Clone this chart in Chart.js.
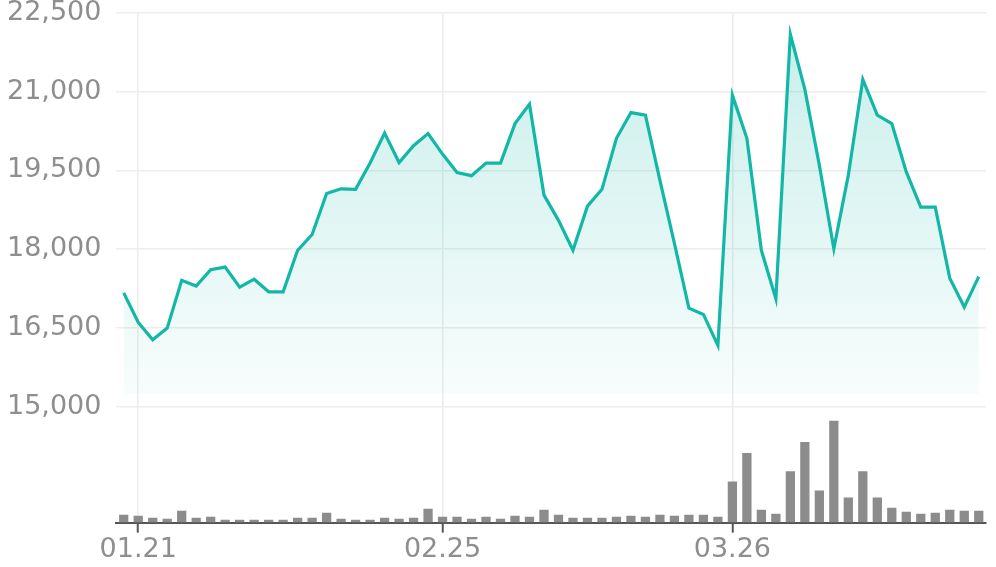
<!DOCTYPE html>
<html>
<head>
<meta charset="utf-8">
<script src="https://cdn.jsdelivr.net/npm/chart.js@4/dist/chart.umd.min.js"></script>
<style>
    html, body { margin:0; padding:0; background:#ffffff; }
    #wrap { width:996px; height:567px; }
</style>
</head>
<body>
<div id="wrap"><canvas id="chartPrice"></canvas></div>
<script>

/* ---------- data ---------- */

const dates = [
    "01.20","01.21","01.22","01.23","01.24","01.31","02.03","02.04","02.05","02.06",
    "02.07","02.10","02.11","02.12","02.13","02.14","02.17","02.18","02.19","02.20",
    "02.21","02.24","02.25","02.26","02.27","02.28","03.04","03.05","03.06","03.07",
    "03.10","03.11","03.12","03.13","03.14","03.17","03.18","03.19","03.20","03.21",
    "03.24","03.25","03.26","03.27","03.28","03.31","04.01","04.02","04.03","04.04",
    "04.07","04.08","04.09","04.10","04.11","04.14","04.15","04.16","04.17","04.18"
];

const prices = [
    17170,16610,16280,16500,17410,17300,17610,17660,17280,17430,
    17190,17190,17980,18280,19060,19150,19140,19640,20210,19650,
    19970,20200,19810,19460,19400,19640,19640,20390,20760,19030,
    18550,17980,18820,19140,20110,20600,20550,19310,18110,16880,
    16760,16170,20930,20110,17980,17060,22090,21040,19600,18010,
    19410,21230,20550,20390,19470,18800,18800,17450,16900,17480
];

const volumes = [
    77,67,47,37,117,47,57,27,27,27,
    27,27,47,47,97,37,27,27,47,37,
    47,137,57,57,37,57,37,67,57,127,
    77,47,47,47,57,67,57,77,67,77,
    77,57,407,687,127,87,507,797,317,1007,
    247,507,247,147,107,87,97,127,117,117
];

const shownDates = ["01.21","02.25","03.26"];

const priceTicks = [15000,16500,18000,19500,21000,22500];

/* ---------- chart ---------- */

const teal = "rgb(19,183,167)";

function fillGradient(context) {

    const chart = context.chart;
    const area = chart.chartArea;

    if (!area) return "rgba(19,183,167,0.12)";

    const yScale = chart.scales.y;

    const g = chart.ctx.createLinearGradient(0, area.top, 0, yScale.getPixelForValue(15250));

    g.addColorStop(0, "rgba(19,183,167,0.24)");
    g.addColorStop(1, "rgba(19,183,167,0.03)");

    return g;

}

const fontX = {
    family:"'DejaVu Sans', sans-serif",
    size:27,
    lineHeight:1.2
};

const fontY = {
    family:"'DejaVu Sans', sans-serif",
    size:27,
    lineHeight:0.94
};

const priceChart = new Chart(document.getElementById("chartPrice").getContext("2d"),{

    type:"bar",

    data:{

        labels:dates,

        datasets:[
            {
                type:"line",
                label:"Price",
                data:prices,
                yAxisID:"y",
                borderColor:teal,
                borderWidth:3.2,
                backgroundColor:fillGradient,
                fill:{ value:15250 },
                tension:0,
                pointRadius:0,
                order:1
            },
            {
                type:"bar",
                label:"Volume",
                data:volumes,
                yAxisID:"y1",
                backgroundColor:"#8c8c8c",
                barPercentage:0.64,
                categoryPercentage:1,
                order:2
            }
        ]

    },

    options:{

        responsive:true,
        maintainAspectRatio:false,
        animation:false,

        layout:{
            padding:{ left:7, right:10, top:0, bottom:0 }
        },

        plugins:{
            legend:{ display:false },
            tooltip:{ enabled:false }
        },

        scales:{

            x:{
                offset:true,
                grid:{
                    offset:false,
                    lineWidth:1.5,
                    color:(c)=> shownDates.includes(dates[c.index]) ? "#ececec" : "rgba(0,0,0,0)",
                    tickColor:(c)=> shownDates.includes(dates[c.index]) ? "#555555" : "rgba(0,0,0,0)",
                    tickLength:10,
                    tickWidth:2
                },
                border:{
                    color:"#555555",
                    width:2
                },
                ticks:{
                    autoSkip:false,
                    maxRotation:0,
                    padding:1,
                    color:"#8e8e8e",
                    font:fontX,
                    callback:(v, i)=> shownDates.includes(dates[i]) ? dates[i] : ""
                }
            },

            y:{
                position:"left",
                min:12800,
                max:22500,
                afterBuildTicks:(scale)=>{
                    scale.ticks = priceTicks.map(v=>({ value:v }));
                },
                grid:{
                    color:"#ededed",
                    lineWidth:1.5,
                    drawTicks:true,
                    tickLength:15,
                    tickColor:"rgba(0,0,0,0)"
                },
                border:{ display:false },
                ticks:{
                    padding:0,
                    color:"#8e8e8e",
                    font:fontY,
                    callback:(v)=> v.toLocaleString("en-US")
                }
            },

            y1:{
                display:false,
                min:0,
                max:5040
            }

        }

    }

});

</script>
</body>
</html>
